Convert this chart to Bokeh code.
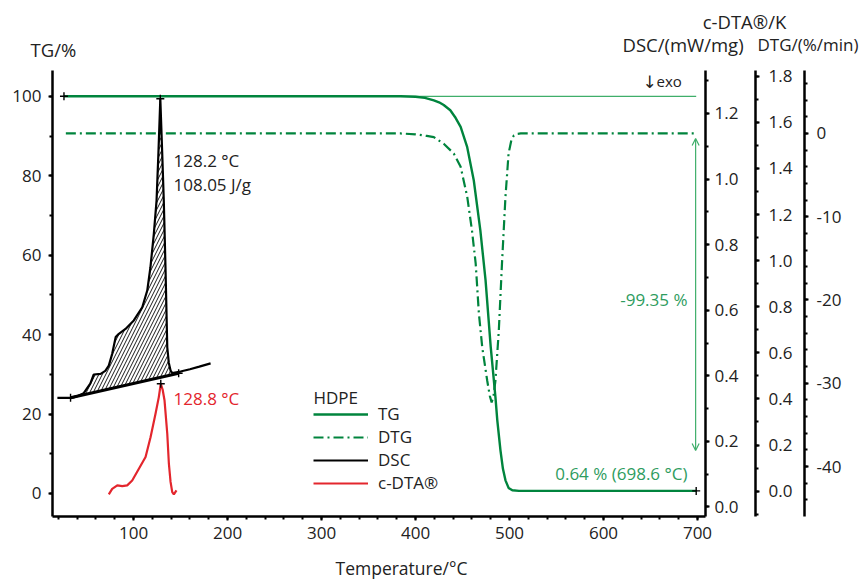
import numpy as np
from bokeh.plotting import figure
from bokeh.layouts import column
from bokeh.models import (Range1d, LinearAxis, FixedTicker, PrintfTickFormatter,
                          Label, Legend, LegendItem, Arrow, OpenHead)
from bokeh.core.properties import value
from bokeh.embed import file_html
from bokeh.resources import INLINE

# ---------------- data ----------------
tg_temp = [26, 384, 400, 410, 419.5, 425, 430, 437, 442, 448, 455, 462, 469, 474.5,
           480, 485, 487, 490.4, 493, 495.7, 499, 503, 510, 698.6]
tg_pct = [100, 100, 99.9, 99.6, 99.0, 98.5, 97.8, 96.5, 94.8, 92.3, 87.2, 78.8, 66.2, 53.7,
          36.9, 24.3, 18.4, 10.8, 6.2, 3.3, 1.4, 0.8, 0.64, 0.64]

dtg_temp = [28, 384, 400, 412, 419.5, 430, 440.7, 448, 455, 460, 464, 467.4, 471, 476.3,
            479, 481, 483, 485, 488.6, 492, 495.7, 499, 502, 504.6, 508, 512, 698]
dtg_val = [0, 0, -0.1, -0.3, -0.44, -1.24, -2.4, -4.0, -7.6, -11.6, -15.6, -21.6, -25.7, -29.7,
           -31.5, -32.3, -31.5, -29.7, -23.7, -15.6, -7.6, -2.4, -0.8, -0.24, -0.05, 0, 0]

dsc_temp = [19, 33, 40, 47, 54, 57.7, 65, 70, 73.7, 77.3, 81, 84.4, 91.5, 100.3, 109.3,
            114.6, 118, 121.6, 124.5, 126.5, 128.5, 130.5, 132.2, 134, 135.9, 137.5, 139.4,
            141.2, 150, 160, 170, 182]
dsc_val = [0.333, 0.333, 0.338, 0.347, 0.376, 0.404, 0.406, 0.415, 0.431, 0.467, 0.518, 0.528,
           0.543, 0.569, 0.609, 0.66, 0.731, 0.833, 0.934, 1.08, 1.245, 1.08, 0.934, 0.731,
           0.487, 0.44, 0.416, 0.408, 0.413, 0.42, 0.428, 0.438]

cdta_temp = [73.7, 77.3, 82.7, 88, 93.3, 98.6, 105.7, 112.8, 118.1, 123.4, 126.9, 129,
             131, 133, 135.9, 137.6, 139.4, 141.2, 142.9, 145.7]
cdta_val = [-0.014, 0.010, 0.025, 0.022, 0.025, 0.046, 0.097, 0.148, 0.234, 0.336, 0.408, 0.466,
            0.44, 0.393, 0.249, 0.12, 0.04, -0.004, -0.014, 0.003]

dsc_base_temp = [33, 148]          # integration limits
dsc_base_val = [0.333, 0.408]

x_ticks = [100, 200, 300, 400, 500, 600, 700]
tg_ticks = [0, 20, 40, 60, 80, 100]
dsc_ticks = [0.0, 0.2, 0.4, 0.6, 0.8, 1.0, 1.2]
cdta_ticks = [0.0, 0.2, 0.4, 0.6, 0.8, 1.0, 1.2, 1.4, 1.6, 1.8]
dtg_ticks = [-40, -30, -20, -10, 0]

tg_step_text = "-99.35 %"
tg_residue_text = "0.64 % (698.6 °C)"
dsc_peak_text = ["128.2 °C", "108.05 J/g"]
cdta_peak_text = "128.8 °C"
legend_title = "HDPE"
legend_labels = ["TG", "DTG", "DSC", "c-DTA®"]

# ---------------- style ----------------
FONT = "Open Sans"
TXT = "#222222"
GREEN = "#00843d"
GREEN_T = "#2e9c5e"
GREEN_L = "#3fae6a"
RED = "#e3262d"
FS = "17px"
FS_T = "18.5px"
HEAD_H = 62
FOOT_H = 28
MAIN_H = 579 - HEAD_H - FOOT_H


def strip(height):
    s = figure(width=862, height=height, output_backend="svg", toolbar_location=None,
               x_range=Range1d(0, 862), y_range=Range1d(height, 0),
               x_axis_location=None, y_axis_location=None, min_border=0)
    s.frame_align = False
    s.outline_line_color = None
    s.xgrid.visible = False
    s.ygrid.visible = False
    return s


# header strip: axis titles above the plot frame
hdr = strip(HEAD_H)
hdr.text(x=[744], y=[21], text=["c-DTA®/K"], text_align="center", text_baseline="middle",
         text_font=value(FONT), text_font_size=value(FS_T), text_color=TXT)
hdr.text(x=[622, 30], y=[44, 49], text=["DSC/(mW/mg)", "TG/%"],
         text_align="left", text_baseline="middle",
         text_font=value(FONT), text_font_size=value(FS_T), text_color=TXT)
hdr.text(x=[757], y=[44], text=["DTG/(%/min)"], text_align="left", text_baseline="middle",
         text_font=value(FONT), text_font_size=value("17px"), text_color=TXT)

# footer strip: x axis title
ftr = strip(FOOT_H)
ftr.text(x=[401], y=[567 - (579 - FOOT_H)], text=["Temperature/°C"], text_align="center",
         text_baseline="middle", text_font=value(FONT), text_font_size=value("17.5px"),
         text_color=TXT)

p = figure(width=862, height=MAIN_H, output_backend="svg", toolbar_location=None,
           x_range=Range1d(13.8, 708.5), y_range=Range1d(-5.8, 106.5),
           min_border_left=52, min_border_right=157, min_border_top=8,
           min_border_bottom=MAIN_H + HEAD_H - 516)
p.frame_align = False
p.outline_line_color = None
p.xgrid.visible = False
p.ygrid.visible = False
p.extra_y_ranges = {"dsc": Range1d(-0.029, 1.331),
                    "cdta": Range1d(-0.110, 1.825),
                    "dtg": Range1d(-46.0, 7.56)}


def style(ax, ticks, minor, fmt, standoff):
    ax.ticker = FixedTicker(ticks=ticks, minor_ticks=minor)
    ax.formatter = PrintfTickFormatter(format=fmt)
    ax.axis_line_width = 2.5
    ax.axis_line_color = "black"
    ax.major_tick_line_width = 2
    ax.minor_tick_line_width = 2
    ax.major_tick_line_color = "black"
    ax.minor_tick_line_color = "black"
    ax.major_tick_out = 4
    ax.major_tick_in = 0
    ax.minor_tick_out = 3
    ax.minor_tick_in = 0
    ax.major_label_text_font = FONT
    ax.major_label_text_font_size = FS
    ax.major_label_text_color = TXT
    ax.major_label_standoff = standoff


style(p.xaxis[0], x_ticks, list(np.arange(20, 701, 20)), "%d", 6)
style(p.yaxis[0], tg_ticks, list(np.arange(0, 101, 10)), "%d", 7)

ax_dsc = LinearAxis(y_range_name="dsc", axis_label=" ")
style(ax_dsc, dsc_ticks, list(np.round(np.arange(0, 1.31, 0.1), 2)), "%.1f", 5)
ax_dsc.axis_label_text_font_size = "8px"
ax_dsc.axis_label_standoff = 2
p.add_layout(ax_dsc, "right")

ax_cdta = LinearAxis(y_range_name="cdta", axis_label=" ")
style(ax_cdta, cdta_ticks, list(np.round(np.arange(-0.1, 1.81, 0.1), 2)), "%.1f", 9)
ax_cdta.axis_label_text_font_size = "5px"
ax_cdta.axis_label_standoff = 0
p.add_layout(ax_cdta, "right")

ax_dtg = LinearAxis(y_range_name="dtg")
style(ax_dtg, dtg_ticks, list(np.arange(-44, 7, 2)), "%d", 8)
p.add_layout(ax_dtg, "right")

# ---------------- curves ----------------
p.line([tg_temp[0], tg_temp[-1]], [tg_pct[0], tg_pct[0]], line_color=GREEN_L, line_width=1.2)
r_tg = p.line(tg_temp, tg_pct, line_color=GREEN, line_width=2.4)
r_dtg = p.line(dtg_temp, dtg_val, y_range_name="dtg", line_color=GREEN, line_width=2.2,
               line_dash="10 4 2 4")

# hatched peak area between DSC curve and baseline
T = np.array(dsc_temp, dtype=float)
V = np.array(dsc_val, dtype=float)
b0, b1 = dsc_base_temp
m = (T > b0) & (T < b1)
px = [b0] + list(T[m]) + [b1, b1, b0]
py = [float(np.interp(b0, T, V))] + list(V[m]) + [float(np.interp(b1, T, V)),
                                                  dsc_base_val[1], dsc_base_val[0]]
p.patch(px, py, y_range_name="dsc", fill_color=None, line_color=None,
        hatch_pattern="/", hatch_color="black", hatch_scale=7, hatch_weight=0.9)

p.line(dsc_base_temp, dsc_base_val, y_range_name="dsc", line_color="black", line_width=3)
r_dsc = p.line(dsc_temp, dsc_val, y_range_name="dsc", line_color="black", line_width=2.2)
r_cdta = p.line(cdta_temp, cdta_val, y_range_name="cdta", line_color=RED, line_width=2.2)

# markers
ip = int(np.argmax(dsc_val))
ic = int(np.argmax(cdta_val))
mk = dict(marker="cross", size=8, line_color="black", line_width=1.4)
p.scatter([tg_temp[0], tg_temp[-1]], [tg_pct[0], tg_pct[-1]], **mk)
p.scatter(dsc_base_temp + [dsc_temp[ip]], dsc_base_val + [dsc_val[ip]], y_range_name="dsc", **mk)
p.scatter([cdta_temp[ic]], [cdta_val[ic]], y_range_name="cdta", **mk)

# step arrow
p.add_layout(Arrow(start=OpenHead(size=7, line_color=GREEN_L, line_width=1.2),
                   end=OpenHead(size=7, line_color=GREEN_L, line_width=1.2),
                   x_start=698, y_start=89.4, x_end=698, y_end=10.8,
                   line_color=GREEN_L, line_width=1.2))

# ---------------- legend ----------------
legend = Legend(items=[LegendItem(label=l, renderers=[r]) for l, r in
                       zip(legend_labels, [r_tg, r_dtg, r_dsc, r_cdta])],
                location=(261, 22), glyph_width=55, glyph_height=18,
                label_height=18, spacing=0, padding=0, margin=0, label_standoff=10,
                border_line_color=None, background_fill_alpha=0,
                label_text_font=FONT, label_text_font_size=FS, label_text_color=TXT)
p.add_layout(legend)

# ---------------- texts inside the frame ----------------
FL, FB = 52, 516 - HEAD_H  # frame left / bottom in this figure's px


def lab(text, x, y, align="left", color=TXT, size=FS, font=FONT):
    p.add_layout(Label(x=x - FL, y=FB - (y - HEAD_H), x_units="screen", y_units="screen",
                       text=text, text_align=align, text_baseline="middle",
                       text_color=color, text_font=font, text_font_size=size))


lab(legend_title, 313, 397)
lab("↓", 649, 81, "center", size="17px", font="DejaVu Sans")
lab("exo", 656, 80, "left", size="15px")
lab(dsc_peak_text[0], 173, 160)
lab(dsc_peak_text[1], 173, 184)
lab(cdta_peak_text, 173, 398, color=RED)
lab(tg_step_text, 687, 299, "right", color=GREEN_T)
lab(tg_residue_text, 687, 473, "right", color=GREEN_T)

open("out.html", "w").write(file_html(column(hdr, p, ftr, spacing=0), INLINE))
